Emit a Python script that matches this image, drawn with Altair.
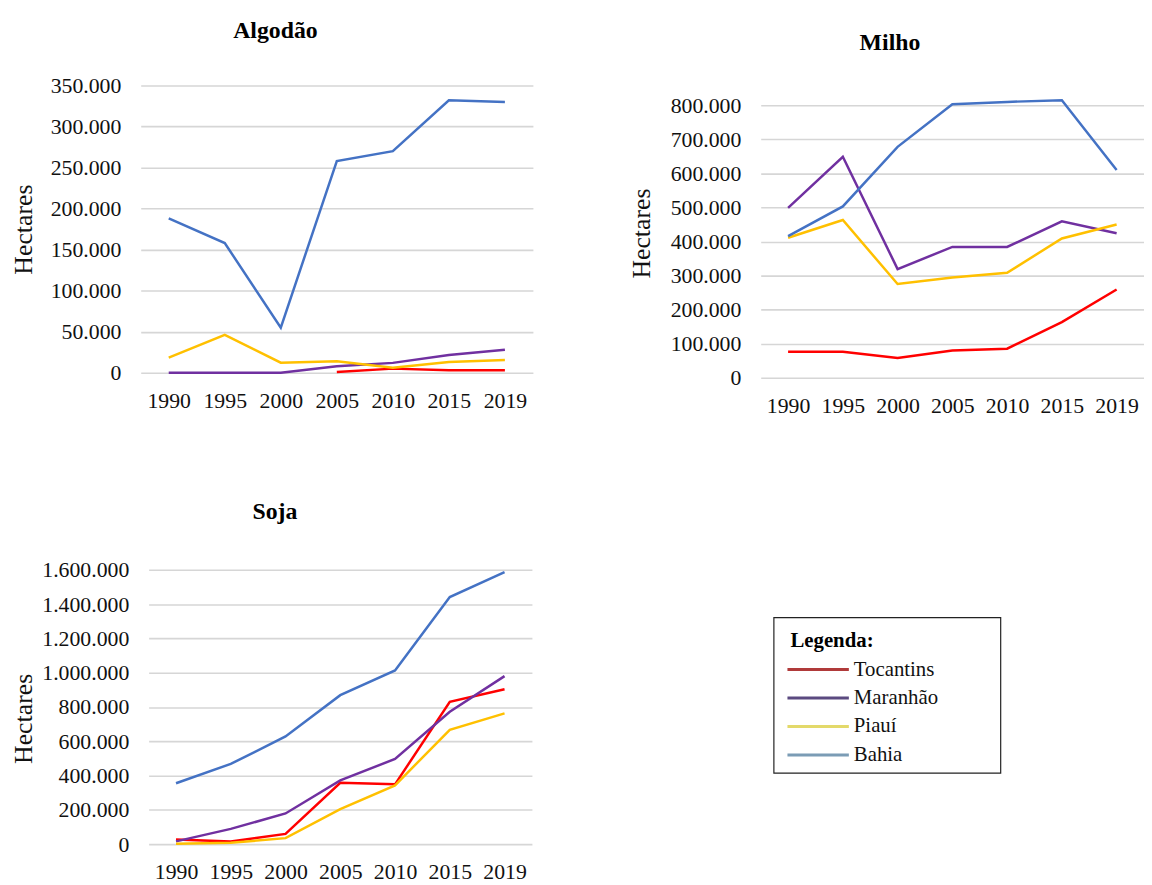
import altair as alt
import pandas as pd

years = ["1990", "1995", "2000", "2005", "2010", "2015", "2019"]
states = ["Tocantins", "Maranhão", "Piauí", "Bahia"]
line_colors = ["#FF0000", "#7030A0", "#FFC000", "#4472C4"]
legend_colors = ["#b03a3a", "#5b4a80", "#e3d96a", "#7b9cb5"]

# Algodão (hectares)
alg_tocantins = [None, None, None, 1000, 5000, 3000, 3000]
alg_maranhao = [0, 0, 0, 8000, 12000, 21700, 28000]
alg_piaui = [18500, 46000, 12300, 14000, 6000, 13000, 15500]
alg_bahia = [188000, 158000, 55000, 258000, 270000, 332000, 330000]

# Milho (hectares)
mil_tocantins = [76000, 76000, 58000, 80000, 85000, 163000, 259000]
mil_maranhao = [499000, 649000, 319000, 384000, 384000, 459000, 424000]
mil_piaui = [411000, 463000, 275000, 294000, 308000, 409000, 450000]
mil_bahia = [416000, 503000, 678000, 803000, 810000, 815000, 610000]

# Soja (hectares)
soj_tocantins = [27000, 16000, 60000, 358000, 349000, 830000, 903000]
soj_maranhao = [16000, 89000, 179000, 372000, 497000, 772000, 980000]
soj_piaui = [2000, 8000, 35000, 204000, 343000, 667000, 763000]
soj_bahia = [355000, 468000, 628000, 869000, 1013000, 1441000, 1587000]

legend_title = "Legenda:"

FONT = "Liberation Serif"


def long_df(series):
    rows = []
    for st, vals in zip(states, series):
        for y, v in zip(years, vals):
            if v is not None:
                rows.append({"ano": y, "estado": st, "valor": v})
    return pd.DataFrame(rows)


def panel(series, title, ymax, step, w, h, dx, offset, tx, ty):
    df = long_df(series)
    return alt.Chart(df).mark_line(strokeWidth=2.5).encode(
        x=alt.X("ano:O", sort=years,
                scale=alt.Scale(type="point", padding=0.5),
                axis=alt.Axis(title=None, labelAngle=0, grid=False, domain=False,
                              ticks=False, tickSize=0, labelPadding=18,
                              labelFont=FONT, labelFontSize=22, labelColor="#111")),
        y=alt.Y("valor:Q", scale=alt.Scale(domain=[0, ymax], nice=False, zero=True),
                axis=alt.Axis(values=list(range(0, ymax + 1, step)),
                              labelExpr="replace(format(datum.value, ','), regexp(',', 'g'), '.')",
                              title="Hectares", titleFont=FONT, titleFontSize=26,
                              titleFontWeight="normal", titleColor="#111",
                              titleX=tx, titleY=ty, titleBaseline="middle", titleAngle=270,
                              titleAlign="center",
                              labelFont=FONT, labelFontSize=22, labelColor="#111",
                              labelPadding=20, domain=False, ticks=False, tickSize=0,
                              grid=True, gridColor="#d6d6d6", gridWidth=1.6)),
        color=alt.Color("estado:N", scale=alt.Scale(domain=states, range=line_colors),
                        legend=None),
    ).properties(
        width=w, height=h,
        title=alt.TitleParams(text=title, font=FONT, fontSize=24, fontWeight="bold",
                              color="#000", anchor="middle", frame="group", dx=dx,
                              offset=offset, baseline="alphabetic"),
    )


def spacer(w, h):
    return alt.Chart(pd.DataFrame({"v": [0]})).mark_point(opacity=0).encode(
        x=alt.value(0), y=alt.value(0)).properties(width=w, height=h)


algodao = panel([alg_tocantins, alg_maranhao, alg_piaui, alg_bahia], "Algodão",
                350000, 50000, 396, 290, -62, 13, -118, 145)
milho = panel([mil_tocantins, mil_maranhao, mil_piaui, mil_bahia], "Milho",
              800000, 100000, 387, 275, -63, 21, -120, 129)
soja = panel([soj_tocantins, soj_maranhao, soj_piaui, soj_bahia], "Soja",
             1600000, 200000, 387, 277, -66, 16, -126, 150)

# Legend box
leg_rows = [legend_title] + states
leg_df = pd.DataFrame({"row": states, "cor": legend_colors})
title_df = pd.DataFrame({"row": [legend_title]})
yleg = alt.Y("row:N", scale=alt.Scale(type="point", domain=leg_rows, range=[24, 139],
                                      padding=0),
             axis=None)
swatches = alt.Chart(leg_df).mark_rule(strokeWidth=3).encode(
    x=alt.value(14), x2=alt.value(76), y=yleg,
    color=alt.Color("cor:N", scale=None, legend=None))
labels = alt.Chart(leg_df).mark_text(align="left", baseline="middle", font=FONT,
                                     fontSize=21, color="#111").encode(
    x=alt.value(81), y=yleg, text="row:N")
ltitle = alt.Chart(title_df).mark_text(align="left", baseline="middle", font=FONT,
                                       fontSize=21, fontWeight="bold", color="#000").encode(
    x=alt.value(17), y=yleg, text="row:N")
legend = alt.layer(swatches, labels, ltitle).properties(
    width=229, height=157, view=alt.ViewBackground(stroke="#222", strokeWidth=1.2))

left_col = alt.vconcat(algodao, alt.hconcat(spacer(8, 1), soja, spacing=0, bounds="flush"),
                       spacing=199, bounds="flush")
right_col = alt.vconcat(spacer(1, 20), milho, spacer(1, 242),
                        alt.hconcat(spacer(13, 1), legend, spacing=0, bounds="flush"),
                        spacing=0, bounds="flush")

chart = alt.hconcat(left_col, right_col, spacing=626, bounds="flush").properties(
    padding={"left": 3, "top": 7, "right": 0, "bottom": 0}
).configure_view(stroke=None).resolve_scale(color="independent")

chart.save("out.html", embed_options={"renderer": "svg", "actions": False})
